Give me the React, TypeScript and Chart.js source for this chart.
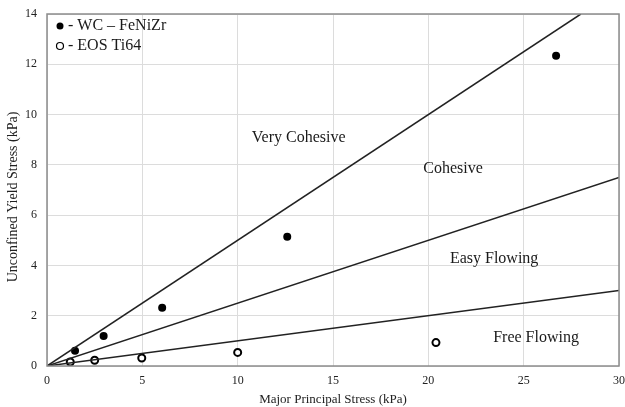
import React, { useEffect, useRef } from "react";
import { Chart, registerables } from "chart.js";

Chart.register(...registerables);

const wcX = [1.47, 2.97, 6.04, 12.6, 26.7];
const wcY = [0.61, 1.19, 2.32, 5.14, 12.34];
const eosX = [1.22, 2.5, 4.97, 10.0, 20.4];
const eosY = [0.16, 0.23, 0.32, 0.54, 0.93];
const ffcBoundaries = [2, 4, 10];
const xMax = 30;
const yMax = 14;
const regionLabels = ["Very Cohesive", "Cohesive", "Easy Flowing", "Free Flowing"];
const regionX = [13.2, 21.3, 23.45, 25.65];
const regionY = [9.07, 7.84, 4.26, 1.11];
const legendLabels = ["- WC \u2013 FeNiZr", "- EOS Ti64"];
const yTitle = "Unconfined Yield Stress (kPa)";
const xTitle = "Major Principal Stress (kPa)";

const FONT = "'Liberation Serif', 'Times New Roman', serif";

export default function App() {
  const ref = useRef<HTMLCanvasElement | null>(null);
  useEffect(() => {
    document.body.style.margin = "0";
    const canvas = ref.current!;
    const boundaryData = ffcBoundaries.map((ffc) => {
      const endX = Math.min(xMax, yMax * ffc);
      return [
        { x: 0, y: 0 },
        { x: endX, y: endX / ffc },
      ];
    });
    const overlay = {
      id: "overlay",
      afterDraw(chart: any) {
        const { ctx, chartArea, scales } = chart;
        ctx.save();
        ctx.strokeStyle = "#8c8c8c";
        ctx.lineWidth = 1.5;
        ctx.strokeRect(chartArea.left, chartArea.top, chartArea.right - chartArea.left, chartArea.bottom - chartArea.top);
        ctx.fillStyle = "#1a1a1a";
        ctx.font = `16px ${FONT}`;
        ctx.textAlign = "center";
        ctx.textBaseline = "middle";
        regionLabels.forEach((t, i) => {
          ctx.fillText(t, scales.x.getPixelForValue(regionX[i]), scales.y.getPixelForValue(regionY[i]));
        });
        // legend
        const lx = chartArea.left + 13;
        const ly = chartArea.top + 12;
        ctx.textAlign = "left";
        legendLabels.forEach((t, i) => {
          const y = ly + i * 20;
          ctx.beginPath();
          ctx.arc(lx, y, 3.5, 0, Math.PI * 2);
          if (i === 0) {
            ctx.fillStyle = "#000";
            ctx.fill();
          } else {
            ctx.fillStyle = "#fff";
            ctx.fill();
            ctx.strokeStyle = "#000";
            ctx.lineWidth = 1.2;
            ctx.stroke();
          }
          ctx.fillStyle = "#1a1a1a";
          ctx.fillText(t, lx + 8, y);
        });
        // y axis title
        ctx.save();
        ctx.translate(13, (chartArea.top + chartArea.bottom) / 2 + 7);
        ctx.rotate(-Math.PI / 2);
        ctx.textAlign = "center";
        ctx.font = `14px ${FONT}`;
        ctx.fillStyle = "#222";
        ctx.fillText(yTitle, 0, 0);
        ctx.restore();
        ctx.restore();
      },
    };
    const chart = new Chart(canvas, {
      type: "scatter",
      data: {
        datasets: [
          ...boundaryData.map((d) => ({
            type: "line" as const,
            data: d,
            borderColor: "#222",
            borderWidth: 1.5,
            pointRadius: 0,
            showLine: true,
            fill: false,
          })),
          {
            data: wcX.map((x, i) => ({ x, y: wcY[i] })),
            backgroundColor: "#000",
            borderColor: "#000",
            pointRadius: 4,
            borderWidth: 0,
          },
          {
            data: eosX.map((x, i) => ({ x, y: eosY[i] })),
            backgroundColor: "#fff",
            borderColor: "#000",
            pointRadius: 3.5,
            borderWidth: 2,
          },
        ],
      },
      options: {
        animation: false,
        responsive: false,
        layout: { padding: { top: 14, right: 5, left: 0, bottom: 0 } },
        plugins: { legend: { display: false }, tooltip: { enabled: false } },
        scales: {
          x: {
            type: "linear",
            min: 0,
            max: xMax,
            ticks: { stepSize: 5, color: "#222", font: { family: FONT, size: 12 }, padding: 8 },
            grid: { color: "#dcdcdc", lineWidth: 1, drawTicks: false },
            border: { display: false },
            title: { display: true, text: xTitle, color: "#222", font: { family: FONT, size: 13 }, padding: { top: 0, bottom: 0 } },
            afterFit: (s: any) => {
              s.height = 41;
              s.paddingLeft = 0;
              s.paddingRight = 0;
            },
          },
          y: {
            type: "linear",
            min: 0,
            max: yMax,
            ticks: { stepSize: 2, color: "#222", font: { family: FONT, size: 12 }, padding: 10 },
            grid: { color: "#dcdcdc", lineWidth: 1, drawTicks: false },
            border: { display: false },
            title: { display: false },
            afterFit: (s: any) => {
              s.width = 47;
              s.paddingTop = 0;
              s.paddingBottom = 0;
            },
          },
        },
      },
      plugins: [overlay],
    });
    return () => chart.destroy();
  }, []);
  return (
    <div style={{ position: "absolute", left: 0, top: 0, width: 625, height: 407, background: "#fff" }}>
      <canvas ref={ref} width={625} height={407} />
    </div>
  );
}
